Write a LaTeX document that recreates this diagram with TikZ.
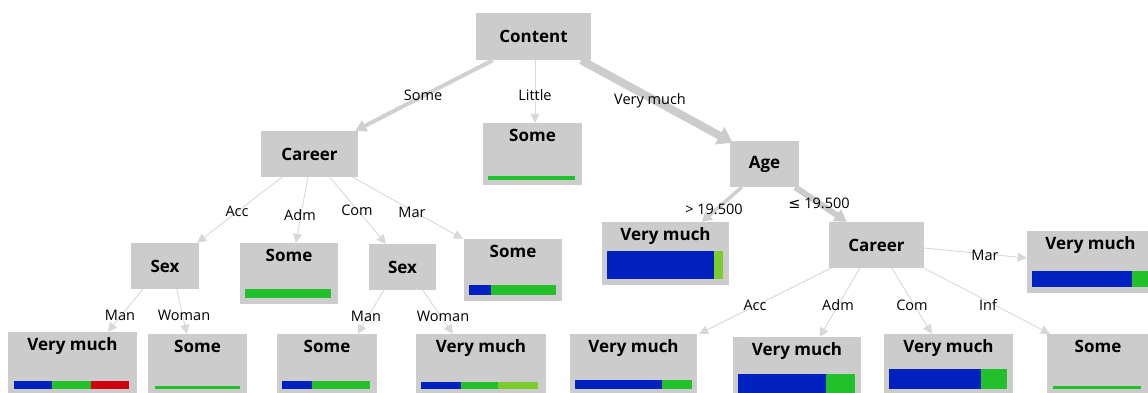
\documentclass[tikz,border=0pt]{standalone}
\usepackage{fontspec}
\setmainfont{Open Sans}
\newfontfamily\symfont{DejaVu Sans}
\usetikzlibrary{arrows.meta}

\definecolor{boxgray}{HTML}{CCCCCC}
\definecolor{edgegray}{HTML}{D0D0D0}
\definecolor{faintgray}{HTML}{D8D8D8}
\definecolor{barblue}{HTML}{0020C0}
\definecolor{bargreen}{HTML}{22C02A}
\definecolor{barlime}{HTML}{7CCC30}
\definecolor{barred}{HTML}{D00010}

\tikzset{
  box/.style={fill=boxgray, draw=none, inner sep=0pt},
  split/.style={font=\bfseries\fontsize{17}{20}\selectfont, text=black},
  leaftext/.style={font=\bfseries\fontsize{17}{20}\selectfont, text=black, anchor=base, inner sep=0pt},
  elabel/.style={font=\fontsize{14.5}{17}\selectfont, text=black, inner sep=0pt},
  thinedge/.style={draw=faintgray, line width=0.9pt, -{Triangle[length=9pt,width=9pt]}},
  midedge/.style={draw=edgegray, line width=4pt, -{Triangle[length=11pt,width=12pt]}},
  fatedge/.style={draw=boxgray, line width=8pt, -{Triangle[length=15pt,width=19pt]}},
}

\begin{document}
\begin{tikzpicture}[x=1pt,y=-1pt]
\useasboundingbox (0,0) rectangle (1148,392);
\clip (0,0) rectangle (1148,392);

% ---- split nodes ----
\node[box, split, minimum width=115pt, minimum height=47pt] (content) at (533.5,36.5) {Content};
\node[box, split, minimum width=97pt, minimum height=46pt] (careerL) at (309.5,154) {Career};
\node[box, split, minimum width=69pt, minimum height=46pt] (age) at (764.5,164) {Age};
\node[box, split, minimum width=95pt, minimum height=46pt] (careerR) at (876.5,245) {Career};
\node[box, split, minimum width=68pt, minimum height=46pt] (sexL) at (165,266) {Sex};
\node[box, split, minimum width=67pt, minimum height=46pt] (sexM) at (402.5,267) {Sex};

% ---- leaf boxes ----
\node[box, minimum width=99pt, minimum height=62pt] (little) at (532.5,154) {};
\node[box, minimum width=127pt, minimum height=63pt] (vmOld) at (665.5,253.5) {};
\node[box, minimum width=127pt, minimum height=62pt] (vmMar) at (1090.5,262) {};
\node[box, minimum width=98pt, minimum height=61pt] (someAdm) at (289,273.5) {};
\node[box, minimum width=98pt, minimum height=62pt] (someMar) at (513,270) {};
\node[box, minimum width=129pt, minimum height=66pt] (accMan) at (72.5,365) {};
\node[box, minimum width=99pt, minimum height=64pt] (accWoman) at (197.5,366) {};
\node[box, minimum width=100pt, minimum height=64pt] (comMan) at (327,366) {};
\node[box, minimum width=130pt, minimum height=64pt] (comWoman) at (481,366) {};
\node[box, minimum width=127pt, minimum height=64pt] (yAcc) at (633.5,366) {};
\node[box, minimum width=128pt, minimum height=61pt] (yAdm) at (797,367.5) {};
\node[box, minimum width=129pt, minimum height=64pt] (yCom) at (948.5,366) {};
\node[box, minimum width=102pt, minimum height=64pt] (yInf) at (1098,366) {};

% leaf labels, baseline 18pt below the box top
\node[leaftext] (tLittle) at (532.5,141) {Some};
\node[leaftext] (tOld) at (665.5,240) {Very much};
\node[leaftext] (tMar) at (1090.5,249) {Very much};
\node[leaftext] (tAdm) at (289,261) {Some};
\node[leaftext] (tMarL) at (513,257) {Some};
\node[leaftext] (tAccMan) at (72.5,350) {Very much};
\node[leaftext] (tAccWoman) at (197.5,352) {Some};
\node[leaftext] (tComMan) at (327,352) {Some};
\node[leaftext] (tComWoman) at (481,352) {Very much};
\node[leaftext] (tYAcc) at (633.5,352) {Very much};
\node[leaftext] (tYAdm) at (797,355) {Very much};
\node[leaftext] (tYCom) at (948.5,352) {Very much};
\node[leaftext] (tYInf) at (1098,352) {Some};

% ---- class distribution bars ----
\fill[bargreen] (488,176) rectangle (575,180);
\fill[barblue] (607,251) rectangle (714,279);
\fill[barlime] (714,251) rectangle (723,279);
\fill[barblue] (1032,271) rectangle (1132,287);
\fill[bargreen] (1132,271) rectangle (1150,287);
\fill[bargreen] (245,289) rectangle (331,298);
\fill[barblue] (469,285) rectangle (491,295);
\fill[bargreen] (491,285) rectangle (556,295);
\fill[barblue] (14,381) rectangle (52,389);
\fill[bargreen] (52,381) rectangle (91,389);
\fill[barred] (91,381) rectangle (129,389);
\fill[bargreen] (155,386) rectangle (240,389);
\fill[barblue] (282,381) rectangle (312,389);
\fill[bargreen] (312,381) rectangle (370,389);
\fill[barblue] (421,382) rectangle (461,389);
\fill[bargreen] (461,382) rectangle (498,389);
\fill[barlime] (498,382) rectangle (538,389);
\fill[barblue] (575,380) rectangle (662,389);
\fill[bargreen] (662,380) rectangle (692,389);
\fill[barblue] (738,374) rectangle (826,395);
\fill[bargreen] (826,374) rectangle (855,395);
\fill[barblue] (889,369) rectangle (981,389);
\fill[bargreen] (981,369) rectangle (1007,389);
\fill[bargreen] (1053,386) rectangle (1141,389);

% ---- connectors ----
\draw[midedge] ([xshift=17pt]content.south west) -- ([xshift=-3pt]careerL.north east);
\draw[thinedge] ([xshift=1.5pt]content.south) -- ([xshift=2.5pt]little.north);
\draw[fatedge] ([xshift=-10pt]content.south east) -- ([xshift=3pt,yshift=-2pt]age.north west);

\draw[thinedge] ([xshift=21pt]careerL.south west) -- ([xshift=-2pt]sexL.north east);
\draw[thinedge] ([xshift=47pt]careerL.south west) -- ([xshift=56pt]someAdm.north west);
\draw[thinedge] ([xshift=69pt]careerL.south west) -- ([xshift=17pt]sexM.north west);
\draw[thinedge] ([xshift=92pt]careerL.south west) -- ([xshift=-1pt]someMar.north west);

\draw[thinedge] ([xshift=12pt]sexL.south west) -- ([xshift=100pt]accMan.north west);
\draw[thinedge] ([xshift=46pt]sexL.south west) -- ([xshift=39pt]accWoman.north west);
\draw[thinedge] ([xshift=15pt]sexM.south west) -- ([xshift=81pt]comMan.north west);
\draw[thinedge] ([xshift=54pt]sexM.south west) -- ([xshift=37pt]comWoman.north west);

\draw[draw=edgegray, line width=3.5pt, -{Triangle[length=10pt,width=11pt]}]
  ([xshift=12pt]age.south west) -- ([xshift=100pt]vmOld.north west);
\draw[draw=boxgray, line width=6pt, -{Triangle[length=12pt,width=14pt]}]
  ([xshift=-4pt]age.south east) -- ([xshift=18pt]careerR.north west);

\draw[thinedge] ([xshift=2pt]careerR.south west) -- ([xshift=2pt]yAcc.north east);
\draw[thinedge] ([xshift=31pt]careerR.south west) -- ([xshift=87pt]yAdm.north west);
\draw[thinedge] ([xshift=63pt]careerR.south west) -- ([xshift=48pt]yCom.north west);
\draw[thinedge] (careerR.south east) -- ([xshift=3pt]yInf.north west);
\draw[thinedge] ([yshift=-3pt]careerR.east) -- ([yshift=4pt]vmMar.west);

% ---- connector labels ----
\node[elabel] (lSome) at (423,95) {Some};
\node[elabel] (lLittle) at (535,95) {Little};
\node[elabel] (lVery) at (650,101) {Very much};
\node[elabel] (lAcc) at (237,211) {Acc};
\node[elabel] (lAdm) at (300,215) {Adm};
\node[elabel] (lCom) at (357,210) {Com};
\node[elabel] (lMar) at (412,212) {Mar};
\node[elabel] (lManA) at (120,315) {Man};
\node[elabel] (lWomanA) at (184,315) {Woman};
\node[elabel] (lManC) at (366,316) {Man};
\node[elabel] (lWomanC) at (443,316) {Woman};
\node[elabel] (lGt) at (714,209) {> 19.500};
\node[elabel] (lLe) at (819,203) {{\symfont ≤} 19.500};
\node[elabel] (lAccR) at (755,305) {Acc};
\node[elabel] (lAdmR) at (838,305) {Adm};
\node[elabel] (lComR) at (912,305) {Com};
\node[elabel] (lInfR) at (988,305) {Inf};
\node[elabel] (lMarR) at (985,255) {Mar};
\end{tikzpicture}
\end{document}
